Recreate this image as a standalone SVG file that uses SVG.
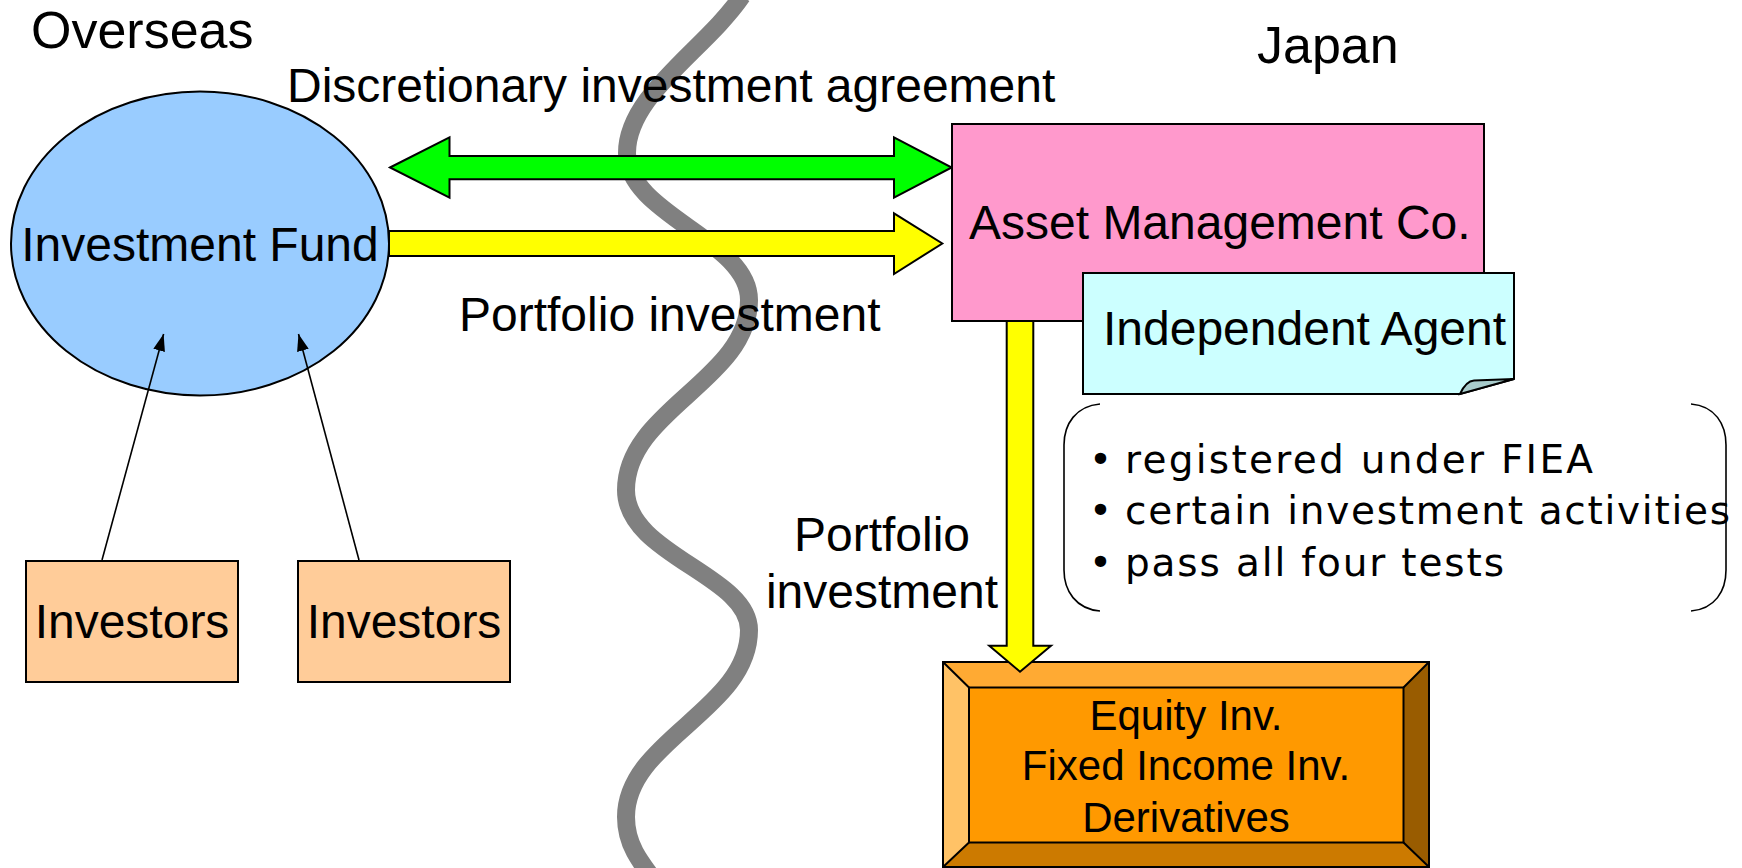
<svg xmlns="http://www.w3.org/2000/svg" width="1742" height="868" viewBox="0 0 1742 868">
<defs>
<style>
.t{font-family:"Liberation Sans",Arial,sans-serif;fill:#000;}
.big{font-size:52px;}
.m{font-size:48px;}
.s{font-size:42px;}
.b{font-family:"DejaVu Sans",Verdana,sans-serif;font-size:39px;fill:#000;}
.box{stroke:#000;stroke-width:2;}
.thin{stroke:#000;stroke-width:1.6;fill:none;}
</style>
<marker id="ah" viewBox="0 0 17 12" refX="17" refY="6" markerWidth="17" markerHeight="12" markerUnits="userSpaceOnUse" orient="auto">
<path d="M0,0 L17,6 L0,12 z" fill="#000"/>
</marker>
</defs>
<rect width="1742" height="868" fill="#fff"/>

<g id="border-line">
<path d="M742,-4 C705,50 627,95 627,153 C627,215 749,240 749,300 C749,380 626,410 626,490 C626,555 749,575 749,630 C749,710 626,740 626,817 C626,845 640,862 660,888" fill="none" stroke="#808080" stroke-width="18"/>
</g>

<g id="labels">
<text class="t big" x="31" y="48">Overseas</text>
<text class="t big" x="1257" y="63">Japan</text>
<text class="t m" x="287" y="102">Discretionary investment agreement</text>
<text class="t m" x="459" y="331">Portfolio investment</text>
<text class="t m" x="882" y="551" text-anchor="middle">Portfolio</text>
<text class="t m" x="882" y="608" text-anchor="middle">investment</text>
</g>

<g id="products">
<polygon points="943,662 1429,662 1403.5,687.5 969,687.5" fill="#FFAA33"/>
<polygon points="943,662 969,687.5 969,842.5 943,867" fill="#FFC266"/>
<polygon points="1429,662 1429,867 1403.5,842.5 1403.5,687.5" fill="#995C00"/>
<polygon points="943,867 969,842.5 1403.5,842.5 1429,867" fill="#CC7A00"/>
<rect x="969" y="687.5" width="434.5" height="155" fill="#FF9900" class="box"/>
<rect x="943" y="662" width="486" height="205" fill="none" class="box"/>
<path d="M943,662 L969,687.5 M1429,662 L1403.5,687.5 M943,867 L969,842.5 M1429,867 L1403.5,842.5" class="box"/>
<text class="t s" x="1186" y="730" text-anchor="middle">Equity Inv.</text>
<text class="t s" x="1186" y="780" text-anchor="middle">Fixed Income Inv.</text>
<text class="t s" x="1186" y="832" text-anchor="middle">Derivatives</text>
</g>

<g id="fund">
<ellipse cx="200" cy="243.5" rx="189" ry="152" fill="#99CCFF" class="box"/>
<text class="t m" x="200" y="261" text-anchor="middle">Investment Fund</text>
</g>

<g id="investors1">
<rect x="26" y="561" width="212" height="121" fill="#FFCC99" class="box"/>
<text class="t m" x="132" y="638" text-anchor="middle">Investors</text>
</g>
<g id="investors2">
<rect x="298" y="561" width="212" height="121" fill="#FFCC99" class="box"/>
<text class="t m" x="404" y="638" text-anchor="middle">Investors</text>
</g>

<g id="connectors">
<polygon points="390,167.5 449.5,137.3 449.5,156 894,156 894,137.3 951.7,167.5 894,197.7 894,179.3 449.5,179.3 449.5,197.7" fill="#00FF00" class="box"/>
<polygon points="389,231 894,231 894,213.3 942.3,243.5 894,274 894,256 389,256" fill="#FFFF00" class="box"/>
<polygon points="1006.7,315 1033.3,315 1033.3,645.7 1051,645.7 1020,671.7 989.3,645.7 1006.7,645.7" fill="#FFFF00" class="box"/>
<line x1="102" y1="560" x2="163.6" y2="334" class="thin" marker-end="url(#ah)"/>
<line x1="359" y1="560" x2="298.5" y2="334" class="thin" marker-end="url(#ah)"/>
</g>

<g id="asset-manager">
<rect x="952" y="124" width="532" height="197" fill="#FF99CC" class="box"/>
<text class="t m" x="969" y="239">Asset Management Co.</text>
</g>

<g id="independent-agent">
<path d="M1083,273 H1514 V379 L1460,394 H1083 Z" fill="#CCFFFF" class="box"/>
<path d="M1460,394 Q1466,381 1474,380.5 L1514,379 Z" fill="#A8CCCC" class="box"/>
<text class="t m" x="1103" y="345">Independent Agent</text>
</g>

<g id="conditions">
<path d="M1100,404 C1076,406 1064,424 1064,445 L1064,570 C1064,591 1076,609 1100,611" class="thin" stroke-width="2"/>
<path d="M1691,404 C1715,406 1726,424 1726,445 L1726,570 C1726,591 1715,609 1691,611" class="thin" stroke-width="2"/>
<text class="b" x="1089" y="473">•</text>
<text class="b" x="1089" y="524">•</text>
<text class="b" x="1089" y="576">•</text>
<text class="b" x="1125" y="473" textLength="468" lengthAdjust="spacing">registered under FIEA</text>
<text class="b" x="1125" y="524" textLength="605" lengthAdjust="spacing">certain investment activities</text>
<text class="b" x="1125" y="576" textLength="379" lengthAdjust="spacing">pass all four tests</text>
</g>
</svg>
